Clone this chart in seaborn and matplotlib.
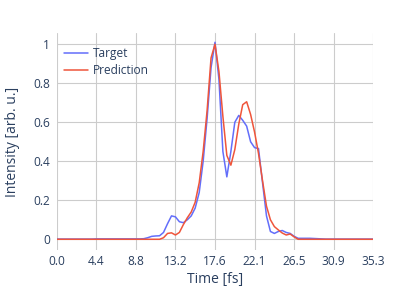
import numpy as np
import pandas as pd
import matplotlib
matplotlib.use("Agg")
import matplotlib.pyplot as plt
import seaborn as sns
from matplotlib.lines import Line2D

time_fs = [0.00, 0.44, 0.88, 1.32, 1.77, 2.21, 2.65, 3.09, 3.53, 3.97,
           4.41, 4.85, 5.30, 5.74, 6.18, 6.62, 7.06, 7.50, 7.94, 8.38,
           8.83, 9.27, 9.71, 10.15, 10.59, 11.03, 11.47, 11.91, 12.36, 12.80,
           13.24, 13.68, 14.12, 14.56, 15.00, 15.44, 15.89, 16.33, 16.77, 17.21,
           17.65, 18.09, 18.53, 18.97, 19.42, 19.86, 20.30, 20.74, 21.18, 21.62,
           22.06, 22.50, 22.95, 23.39, 23.83, 24.27, 24.71, 25.15, 25.59, 26.03,
           26.48, 26.92, 27.36, 27.80, 28.24, 28.68, 29.12, 29.56, 30.01, 30.45,
           30.89, 31.33, 31.77, 32.21, 32.65, 33.09, 33.54, 33.98, 34.42, 34.86,
           35.30]

target = [0.001, 0.001, 0.001, 0.001, 0.001, 0.001, 0.001, 0.001, 0.001, 0.001,
          0.002, 0.002, 0.002, 0.002, 0.002, 0.002, 0.002, 0.002, 0.002, 0.002,
          0.002, 0.002, 0.003, 0.008, 0.015, 0.017, 0.018, 0.035, 0.08, 0.12,
          0.115, 0.09, 0.085, 0.10, 0.12, 0.16, 0.24, 0.40, 0.62, 0.88,
          1.01, 0.82, 0.45, 0.32, 0.45, 0.60, 0.635, 0.61, 0.58, 0.50,
          0.47, 0.465, 0.29, 0.12, 0.04, 0.03, 0.04, 0.045, 0.035, 0.03,
          0.015, 0.005, 0.005, 0.005, 0.005, 0.004, 0.003, 0.002, 0.001, 0.001,
          0.001, 0.001, 0.001, 0.001, 0.001, 0.001, 0.001, 0.001, 0.001, 0.001,
          0.001]

prediction = [0.0, 0.0, 0.0, 0.0, 0.0, 0.0, 0.0, 0.0, 0.0, 0.0,
              0.0, 0.0, 0.0, 0.0, 0.0, 0.0, 0.0, 0.0, 0.0, 0.0,
              0.0, 0.0, 0.0, 0.0, 0.0, 0.0, 0.0, 0.008, 0.03, 0.033,
              0.022, 0.035, 0.075, 0.11, 0.14, 0.19, 0.29, 0.45, 0.66, 0.93,
              1.0, 0.86, 0.63, 0.43, 0.38, 0.46, 0.59, 0.69, 0.705, 0.64,
              0.55, 0.44, 0.30, 0.17, 0.10, 0.065, 0.048, 0.032, 0.022, 0.027,
              0.012, 0.0, 0.0, 0.0, 0.0, 0.0, 0.0, 0.0, 0.0, 0.0,
              0.0, 0.0, 0.0, 0.0, 0.0, 0.0, 0.0, 0.0, 0.0, 0.0,
              0.0]

series_names = ["Target", "Prediction"]
series_colors = ["#636efa", "#EF553B"]
x_ticks = [0.0, 4.4125, 8.825, 13.2375, 17.65, 22.0625, 26.475, 30.8875, 35.3]
x_tick_labels = ["0.0", "4.4", "8.8", "13.2", "17.6", "22.1", "26.5", "30.9", "35.3"]
y_ticks = [0, 0.2, 0.4, 0.6, 0.8, 1.0]
y_tick_labels = ["0", "0.2", "0.4", "0.6", "0.8", "1"]

df = pd.DataFrame({
    "Time": time_fs * 2,
    "Intensity": target + prediction,
    "Series": [series_names[0]] * len(time_fs) + [series_names[1]] * len(time_fs),
})

sns.set_theme(style="white")
plt.rcParams["font.family"] = ["Open Sans", "DejaVu Sans"]
text_color = "#2a3f5f"

fig = plt.figure(figsize=(4.07, 3.05), dpi=100)
ax = fig.add_axes([0.1393, 0.1803, 0.7779, 0.7105])

sns.lineplot(data=df, x="Time", y="Intensity", hue="Series",
             palette=dict(zip(series_names, series_colors)),
             linewidth=1.1, ax=ax, legend=False, zorder=3)

ax.set_xlim(0, 35.3)
ax.set_ylim(-0.055, 1.056)
ax.set_xticks(x_ticks)
ax.set_xticklabels(x_tick_labels)
ax.set_yticks(y_ticks)
ax.set_yticklabels(y_tick_labels)
ax.grid(True, color="#cccccc", linewidth=0.8)
for s in ax.spines.values():
    s.set_visible(False)
ax.tick_params(axis="both", length=0, labelsize=8.6, colors=text_color)
ax.tick_params(axis="x", pad=3.5)
ax.tick_params(axis="y", pad=5)
ax.set_xlabel("Time [fs]", fontsize=10, color=text_color, labelpad=3)
ax.set_ylabel("Intensity [arb. u.]", fontsize=10, color=text_color, labelpad=9)

handles = [Line2D([0], [0], color=c, linewidth=1.1) for c in series_colors]
leg = ax.legend(handles, series_names, loc="upper left", frameon=False,
                fontsize=8.6, handlelength=2.0, handletextpad=0.35,
                labelspacing=0.35, borderaxespad=0.25,
                bbox_to_anchor=(0.0, 0.972))
for t in leg.get_texts():
    t.set_color(text_color)

fig.savefig("out.png", dpi=100)
